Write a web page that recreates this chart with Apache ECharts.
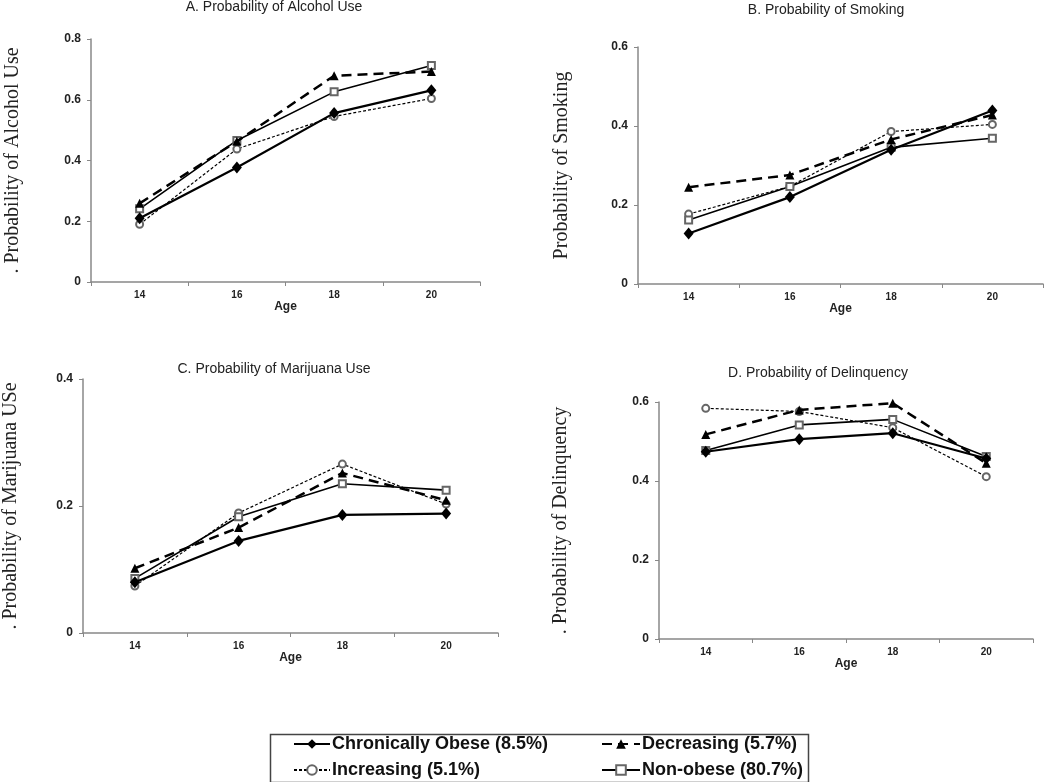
<!DOCTYPE html>
<html>
<head>
<meta charset="utf-8">
<script src="https://cdn.jsdelivr.net/npm/echarts@6/dist/echarts.min.js"></script>
<style>
  html, body { margin: 0; padding: 0; background: #fff; }
  #chart { width: 1050px; height: 782px; }
</style>
</head>
<body>
<div id="chart"></div>
<script>
// ---- Data ----
const ages = ['14', '16', '18', '20'];
const seriesNames = ['Chronically Obese (8.5%)', 'Decreasing (5.7%)', 'Increasing (5.1%)', 'Non-obese (80.7%)'];
const panelTitles = ['A. Probability of Alcohol Use', 'B. Probability of Smoking', 'C. Probability of Marijuana Use', 'D. Probability of Delinquency'];
const yAxisNames = ['. Probability of Alcohol Use', 'Probability of Smoking', '. Probability of Marijuana USe', '. Probability of Delinquency'];
const yMax = [0.8, 0.6, 0.4, 0.6];

// A. Alcohol
const alcoholChronic    = [0.210, 0.377, 0.556, 0.631];
const alcoholDecreasing = [0.259, 0.463, 0.679, 0.693];
const alcoholIncreasing = [0.190, 0.438, 0.545, 0.604];
const alcoholNonObese   = [0.241, 0.466, 0.626, 0.713];
// B. Smoking
const smokingChronic    = [0.128, 0.220, 0.340, 0.439];
const smokingDecreasing = [0.245, 0.276, 0.366, 0.428];
const smokingIncreasing = [0.177, 0.247, 0.386, 0.404];
const smokingNonObese   = [0.162, 0.247, 0.346, 0.369];
// C. Marijuana
const marijuanaChronic    = [0.080, 0.145, 0.186, 0.188];
const marijuanaDecreasing = [0.102, 0.166, 0.252, 0.209];
const marijuanaIncreasing = [0.074, 0.189, 0.266, 0.203];
const marijuanaNonObese   = [0.086, 0.183, 0.235, 0.225];
// D. Delinquency
const delinquencyChronic    = [0.474, 0.506, 0.521, 0.457];
const delinquencyDecreasing = [0.518, 0.580, 0.597, 0.445];
const delinquencyIncreasing = [0.584, 0.576, 0.535, 0.411];
const delinquencyNonObese   = [0.477, 0.542, 0.556, 0.462];

const panelData = [
  [alcoholChronic, alcoholDecreasing, alcoholIncreasing, alcoholNonObese],
  [smokingChronic, smokingDecreasing, smokingIncreasing, smokingNonObese],
  [marijuanaChronic, marijuanaDecreasing, marijuanaIncreasing, marijuanaNonObese],
  [delinquencyChronic, delinquencyDecreasing, delinquencyIncreasing, delinquencyNonObese]
];

// ---- Layout / style ----
const grids = [
  { left: 91, top: 39, width: 389, height: 243 },
  { left: 638, top: 47, width: 405, height: 237 },
  { left: 82, top: 379, width: 416, height: 254 },
  { left: 659, top: 402, width: 374, height: 237 }
];
const titlePos = [
  { x: 274, y: 0 }, { x: 826, y: 3 }, { x: 274, y: 362 }, { x: 818, y: 366 }
];
const yNameGap = [68, 66, 62, 88];

const styles = [
  { symbol: 'diamond', symbolSize: [10, 12], line: { color: '#000', width: 2.2, type: 'solid' }, item: { color: '#000' }, z: 5 },
  { symbol: 'triangle', symbolSize: 9, line: { color: '#000', width: 2.5, type: [10, 6] }, item: { color: '#000' }, z: 4 },
  { symbol: 'emptyCircle', symbolSize: 7, line: { color: '#000', width: 1.2, type: [3, 2] }, item: { color: '#666', borderWidth: 1 }, z: 3 },
  { symbol: 'emptyRect', symbolSize: 7, line: { color: '#000', width: 1.6, type: 'solid' }, item: { color: '#666', borderWidth: 1 }, z: 3 }
];

const axisGrey = '#888';
const font = 'Arial, "Liberation Sans", sans-serif';
const legendCommon = {
  orient: 'vertical', top: 735, padding: 0,
  itemHeight: 12, itemGap: 8, selectedMode: false,
  textStyle: { fontFamily: font, fontSize: 18, fontWeight: 'bold', color: '#111', padding: [0, 0, 0, -3] }
};
const option = {
  backgroundColor: '#fff',
  animation: false,
  title: panelTitles.map((t, i) => ({
    text: t, left: titlePos[i].x, top: titlePos[i].y, textAlign: 'center', padding: 0,
    textStyle: { fontFamily: font, fontSize: 14, fontWeight: 'normal', color: '#222' }
  })),
  grid: grids,
  xAxis: grids.map((g, i) => ({
    type: 'category', gridIndex: i, data: ages, boundaryGap: true,
    name: 'Age', nameLocation: 'middle', nameGap: 18,
    nameTextStyle: { fontFamily: font, fontSize: 12, fontWeight: 'bold', color: '#222' },
    axisLine: { lineStyle: { color: axisGrey, width: 1.5 } },
    axisTick: { show: true, length: 4, lineStyle: { color: axisGrey } },
    axisLabel: { margin: 8, fontFamily: font, fontSize: 10, fontWeight: 'bold', color: '#222' },
    splitLine: { show: false }
  })),
  yAxis: grids.map((g, i) => ({
    type: 'value', gridIndex: i, min: 0, max: yMax[i], interval: 0.2,
    name: yAxisNames[i], nameLocation: 'middle', nameGap: yNameGap[i], nameRotate: 90,
    nameTextStyle: { fontFamily: '"Liberation Serif", "Times New Roman", serif', fontSize: 20, color: '#222' },
    axisLine: { show: true, lineStyle: { color: axisGrey, width: 1.5 } },
    axisTick: { show: true, length: 4, lineStyle: { color: axisGrey } },
    axisLabel: { margin: 10, fontFamily: font, fontSize: 12, fontWeight: 'bold', color: '#222' },
    splitLine: { show: false }
  })),
  legend: [
    Object.assign({}, legendCommon, { data: [seriesNames[0], seriesNames[2]], left: 293, itemWidth: 36 }),
    Object.assign({}, legendCommon, { data: [seriesNames[1], seriesNames[3]], left: 601, itemWidth: 38 })
  ],
  graphic: [
    { type: 'rect', left: 268, top: 732, shape: { width: 538, height: 48 }, style: { fill: 'none', stroke: '#444', lineWidth: 1.5 }, silent: true }
  ],
  series: []
};

panelData.forEach((arrs, p) => {
  arrs.forEach((vals, s) => {
    const st = styles[s];
    option.series.push({
      type: 'line', name: seriesNames[s], xAxisIndex: p, yAxisIndex: p,
      data: vals, symbol: st.symbol, symbolSize: st.symbolSize, showAllSymbol: true,
      lineStyle: st.line, itemStyle: st.item, z: st.z, silent: true
    });
  });
});

const chart = echarts.init(document.getElementById('chart'), null, { renderer: 'canvas' });
chart.setOption(option);
</script>
</body>
</html>
